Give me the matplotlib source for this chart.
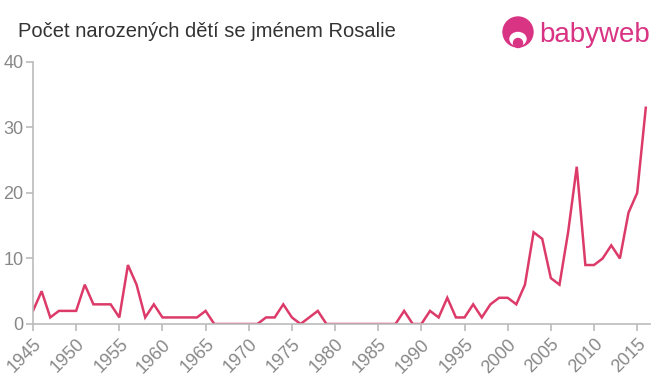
import matplotlib
matplotlib.use("Agg")
import matplotlib.pyplot as plt
from matplotlib.patches import Circle, Ellipse

years = list(range(1945, 2017))
counts = [2, 5, 1, 2, 2, 2, 6, 3, 3, 3,
          1, 9, 6, 1, 3, 1, 1, 1, 1, 1,
          2, 0, 0, 0, 0, 0, 0, 1, 1, 3,
          1, 0, 1, 2, 0, 0, 0, 0, 0, 0,
          0, 0, 0, 2, 0, 0, 2, 1, 4, 1,
          1, 3, 1, 3, 4, 4, 3, 6, 14, 13,
          7, 6, 14, 24, 9, 9, 10, 12, 10, 17,
          20, 33]
xticks = list(range(1945, 2016, 5))
yticks = [0, 10, 20, 30, 40]
title = "Počet narozených dětí se jménem Rosalie"

plt.rcParams['font.family'] = ['Liberation Sans', 'DejaVu Sans']

fig = plt.figure(figsize=(6.6, 3.75), dpi=100)
ax = fig.add_axes([0.05, 0.136, 0.935, 0.699])
ax.plot(years, counts, color='#dc3b6a', lw=1.8, solid_joinstyle='miter')
ax.set_xlim(1945, 2016.5)
ax.set_ylim(0, 40)
ax.set_xticks(xticks)
ax.set_yticks(yticks)
ax.set_xticklabels([str(x) for x in xticks], rotation=45, ha='right',
                   rotation_mode='anchor')
for s in ['top', 'right']:
    ax.spines[s].set_visible(False)
for s in ['left', 'bottom']:
    ax.spines[s].set_color('#bbbbbb')
    ax.spines[s].set_linewidth(1.2)
ax.tick_params(axis='both', colors='#bbbbbb', labelcolor='#888888',
               labelsize=13, length=5, width=1.2)
ax.tick_params(axis='y', pad=2)

fig.text(0.028, 0.915, title, fontsize=14.5, color='#333333', va='center')

# logo
lax = fig.add_axes([0, 0, 1, 1], facecolor='none')
lax.set_xlim(0, 660)
lax.set_ylim(375, 0)
lax.axis('off')
pink = '#d93484'
lax.add_patch(Circle((518, 32), 15, color=pink))
lax.add_patch(Ellipse((518, 39), 16, 13, color='white'))
lax.add_patch(Circle((518, 43), 4.5, color=pink))
lax.text(539, 35, "babyweb", fontsize=20, color=pink, va='center',
         ha='left')

fig.savefig("out.png", dpi=100)
